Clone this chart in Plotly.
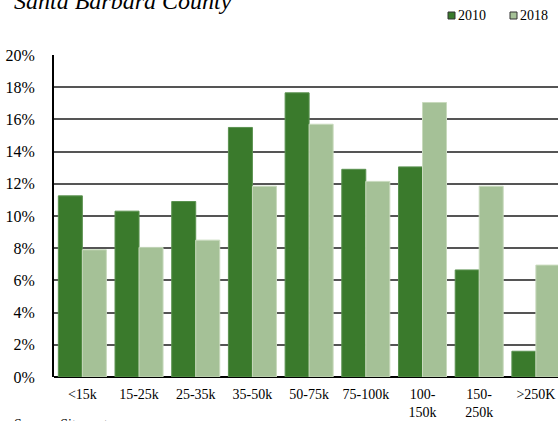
import plotly.graph_objects as go

# income brackets and share of households (%)
categories = ['<15k', '15-25k', '25-35k', '35-50k', '50-75k', '75-100k',
              '100-<br>150k', '150-<br>250k', '>250K']
share_2010 = [11.25, 10.3, 10.9, 15.5, 17.65, 12.9, 13.05, 6.65, 1.6]
share_2018 = [7.9, 8.05, 8.5, 11.85, 15.7, 12.15, 17.05, 11.85, 6.95]

DARK = '#3a7a2c'
LIGHT = '#a5c197'
SERIF = 'Liberation Serif, Times New Roman, serif'

W, H = 558, 421
L, R, T, B = 54, 0, 55, 44
PH = H - T - B


def py(p):
    # pixel row -> paper y
    return (H - B - p) / PH


def px(p):
    return (p - L) / (W - L - R)


fig = go.Figure()
fig.add_trace(go.Bar(x=categories, y=share_2010, name='2010',
                     marker=dict(color=DARK, line=dict(color='#5b9250', width=1))))
fig.add_trace(go.Bar(x=categories, y=share_2018, name='2018',
                     marker=dict(color=LIGHT, line=dict(color='#c8dabd', width=1))))

fig.update_layout(
    width=W, height=H,
    margin=dict(l=L, r=R, t=T, b=B),
    paper_bgcolor='white', plot_bgcolor='white',
    barmode='group', bargap=0.153, bargroupgap=0,
    showlegend=False,
    font=dict(family=SERIF, color='black'),
)

fig.update_xaxes(
    type='category', range=[-0.5, 8.39],
    showgrid=False, showline=False, ticks='',
    tickfont=dict(size=14), ticklabelstandoff=7,
)
fig.update_yaxes(
    range=[0, 20], dtick=2, ticksuffix='%',
    showgrid=True, gridcolor='#555555', gridwidth=2,
    showline=True, linecolor='black', linewidth=2,
    zeroline=True, zerolinecolor='black', zerolinewidth=2,
    tickfont=dict(size=16), ticks='', ticklabelstandoff=14,
)

# title, partly cut off at the top as in the source
fig.add_annotation(text='<i>Santa Barbara County</i>', xref='paper', yref='paper',
                   x=px(12), y=py(16), xanchor='left', yanchor='bottom',
                   showarrow=False, font=dict(size=24, family=SERIF))

# source line, cut off at the bottom
fig.add_annotation(text='Source: Sitemart', xref='paper', yref='paper',
                   x=px(12), y=py(415), xanchor='left', yanchor='top',
                   showarrow=False, font=dict(size=14, family=SERIF))

# legend drawn by hand: small square + label
for name, color, x0 in [('2010', DARK, 448), ('2018', LIGHT, 510)]:
    fig.add_shape(type='rect', xref='paper', yref='paper',
                  x0=px(x0), x1=px(x0 + 7), y0=py(19), y1=py(12),
                  fillcolor=color, line=dict(color='#333333', width=1))
    fig.add_annotation(text=name, xref='paper', yref='paper',
                       x=px(x0 + 8), y=py(15.5), xanchor='left', yanchor='middle',
                       showarrow=False, font=dict(size=14, family=SERIF))

# the page body has an 8px default margin; drop it so the figure sits at 0,0
fig.write_html("out.html", config={'displayModeBar': False},
               post_script="document.body.style.margin='0';")
